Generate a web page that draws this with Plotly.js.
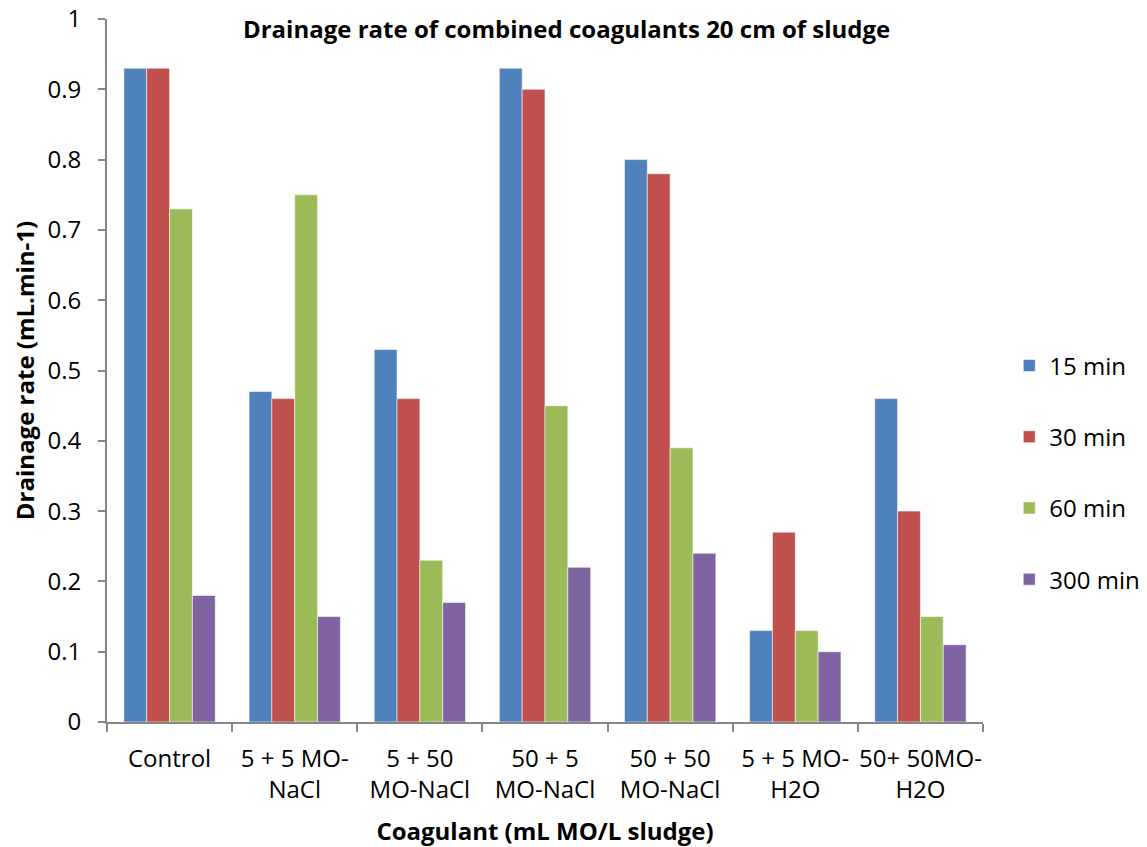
<!DOCTYPE html>
<html>
<head>
<meta charset="utf-8">
<script src="https://cdn.plot.ly/plotly-3.0.1.min.js"></script>
<style>html,body{margin:0;padding:0;background:#fff;}#chart{width:1147px;height:847px;}</style>
</head>
<body>
<div id="chart"></div>
<script>
const categories = ["Control", "5 + 5 MO-<br>NaCl", "5 + 50<br>MO-NaCl", "50 + 5<br>MO-NaCl", "50 + 50<br>MO-NaCl", "5 + 5 MO-<br>H2O", "50+ 50MO-<br>H2O"];
const seriesNames = ["15 min", "30 min", "60 min", "300 min"];
const min15  = [0.93, 0.47, 0.53, 0.93, 0.80, 0.13, 0.46];
const min30  = [0.93, 0.46, 0.46, 0.90, 0.78, 0.27, 0.30];
const min60  = [0.73, 0.75, 0.23, 0.45, 0.39, 0.13, 0.15];
const min300 = [0.18, 0.15, 0.17, 0.22, 0.24, 0.10, 0.11];
const yTicks = [0, 0.1, 0.2, 0.3, 0.4, 0.5, 0.6, 0.7, 0.8, 0.9, 1];
const yTickText = ["0", "0.1", "0.2", "0.3", "0.4", "0.5", "0.6", "0.7", "0.8", "0.9", "1"];

const colors = ["#4F81BD", "#C0504D", "#9BBB59", "#8064A2"];
const values = [min15, min30, min60, min300];
const FONT = "Open Sans, Noto Sans, sans-serif";
const FS = 24;

const traces = values.map((v, i) => ({
  type: "bar",
  name: seriesNames[i],
  x: categories,
  y: v,
  legendgroup: "g" + i,
  marker: {color: colors[i], line: {color: "rgba(255,255,255,0.55)", width: 1}},
  hoverinfo: "x+y+name"
}));

const layout = {
  width: 1147, height: 847,
  paper_bgcolor: "#fff", plot_bgcolor: "#fff",
  margin: {l: 107, r: 164, t: 19, b: 125, autoexpand: false},
  barmode: "group",
  bargap: 0.27,
  bargroupgap: 0,
  font: {family: FONT, size: FS, color: "#000"},
  title: {
    text: "<b>Drainage rate of combined coagulants 20 cm of sludge</b>",
    font: {family: FONT, size: FS, color: "#000"},
    x: 0.494, xanchor: "center",
    y: 0.965, yanchor: "middle"
  },
  xaxis: {
    type: "category",
    automargin: false,
    tickangle: 0,
    showgrid: false,
    showline: true, linecolor: "#868686", linewidth: 2,
    ticks: "outside", tickson: "boundaries", ticklen: 8, tickcolor: "#868686", tickwidth: 2,
    ticklabelstandoff: 14,
    tickfont: {family: FONT, size: FS, color: "#000"},
    title: {text: "<b>Coagulant (mL MO/L sludge)</b>", font: {family: FONT, size: FS, color: "#000"}, standoff: 19},
    fixedrange: true
  },
  yaxis: {
    range: [0, 1],
    automargin: false,
    tickvals: yTicks, ticktext: yTickText,
    showgrid: false, zeroline: false,
    showline: true, linecolor: "#868686", linewidth: 2,
    ticks: "outside", ticklen: 7, tickcolor: "#868686", tickwidth: 2,
    ticklabelstandoff: 12,
    tickfont: {family: FONT, size: FS, color: "#000"},
    title: {text: "<b>Drainage rate (mL.min-1)</b>", font: {family: FONT, size: FS, color: "#000"}, standoff: 6},
    fixedrange: true
  },
  legend: {
    x: 1.03, xanchor: "left", y: 0.355, yanchor: "middle",
    font: {family: FONT, size: FS, color: "#000"},
    tracegroupgap: 37,
    itemwidth: 30,
    bgcolor: "rgba(0,0,0,0)"
  },
  showlegend: true
};

Plotly.newPlot("chart", traces, layout, {displayModeBar: false, staticPlot: true});
</script>
</body>
</html>
